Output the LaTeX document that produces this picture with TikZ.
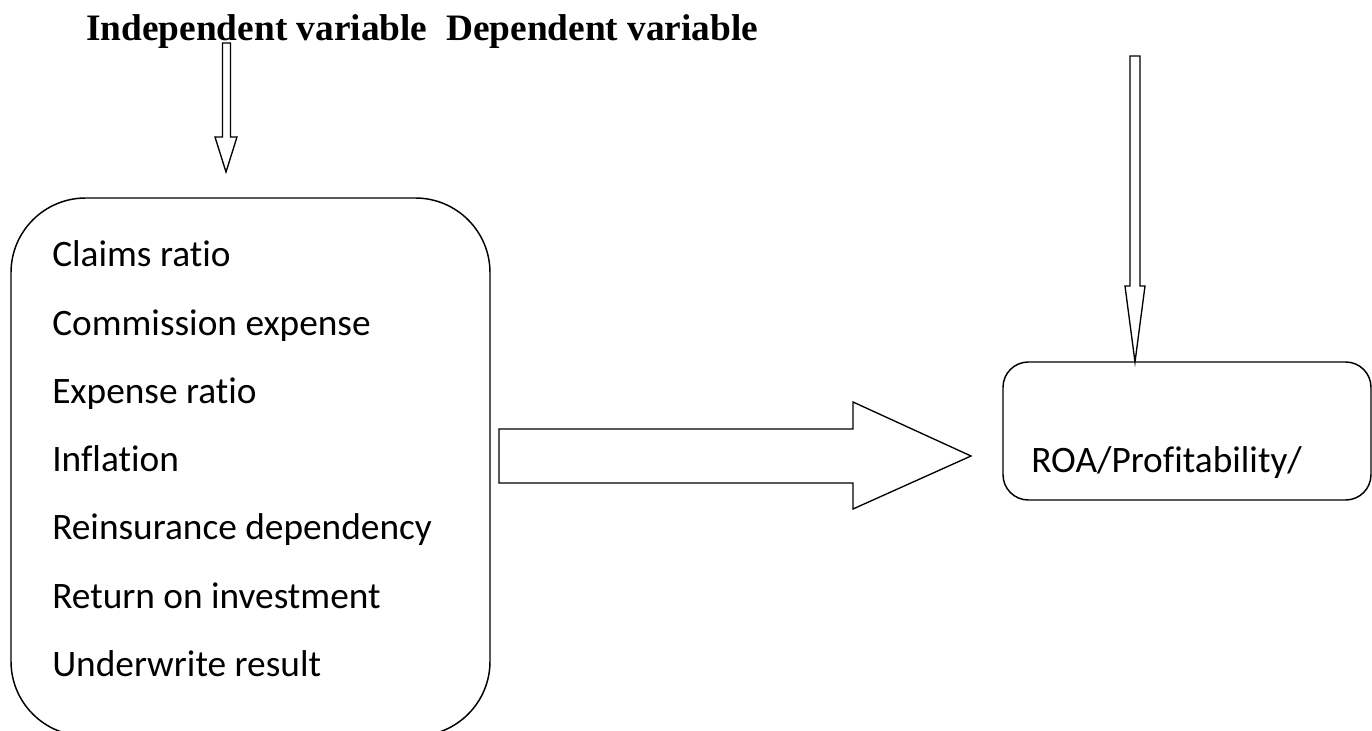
\documentclass[tikz,border=0pt]{standalone}
\usepackage{fontspec}
\setmainfont{Carlito}[Ligatures={NoCommon}]
\newfontfamily\titlefont{Liberation Serif}
\begin{document}
\begin{tikzpicture}[x=0.75pt,y=-0.75pt,
  box/.style={draw=black,line width=1.1pt,inner sep=0pt,outer sep=0pt},
  item/.style={anchor=base west,inner sep=0pt,font=\fontsize{28pt}{33pt}\selectfont},
  blockarrow/.style={draw=black,line width=1pt,fill=white,line join=miter}]
\useasboundingbox (0,0) rectangle (1372,731);
% title
\node[anchor=base west,inner sep=0pt,font=\titlefont\bfseries\fontsize{28pt}{33pt}\selectfont] (title) at (86,41) {Independent variable\ \ Dependent variable};
% left box
\node[box,rounded corners=56pt,minimum width=359.25pt,minimum height=403.5pt] (left) at (250.5,467) {};
\node[item] (i1) at (52,267) {Claims ratio};
\node[item] (i2) at (52,335.2) {Commission expense};
\node[item] (i3) at (52,403.4) {Expense ratio};
\node[item] (i4) at (52,471.6) {Inflation};
\node[item] (i5) at (52,539.8) {Reinsurance dependency};
\node[item] (i6) at (52,608) {Return on investment};
\node[item] (i7) at (52,676.2) {Underwrite result};
% right box
\node[box,rounded corners=19pt,minimum width=276pt,minimum height=103.5pt] (right) at (1187,431) {};
\node[item] (roa) at (1031,472) {ROA/Profitability/};
% arrows
\draw[blockarrow] (222.5,43) -- (230.5,43) -- (230.5,137) -- (237,137) -- (226,172) -- (215,137) -- (222.5,137) -- cycle;
\draw[blockarrow] (1130,56) -- (1140,56) -- (1140,286) -- (1145,286) -- (1135,362) -- (1125,286) -- (1130,286) -- cycle;
\draw[blockarrow] (499,429) -- (853,429) -- (853,402) -- (971,456) -- (853,509) -- (853,483) -- (499,483) -- cycle;
\end{tikzpicture}
\end{document}
